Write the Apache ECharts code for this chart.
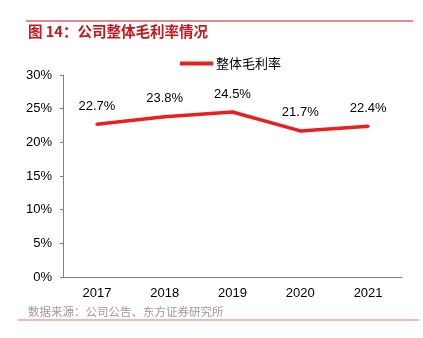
<!DOCTYPE html>
<html><head><meta charset="utf-8">
<script src="https://cdn.jsdelivr.net/npm/echarts@6/dist/echarts.min.js"></script>
<style>html,body{margin:0;padding:0;background:#fff}#c{width:423px;height:338px}</style>
</head><body><div id="c"></div>
<script>
var categories = ['2017', '2018', '2019', '2020', '2021'];
var grossMargin = [22.7, 23.8, 24.5, 21.7, 22.4];
var seriesName = '整体毛利率';
var titleText = '图 14：公司整体毛利率情况';
var sourceText = '数据来源：公司公告、东方证券研究所';

var chart = echarts.init(document.getElementById('c'));
var font = '"Liberation Sans", Arial, "Noto Sans CJK SC", sans-serif';
chart.setOption({
  animation: false,
  textStyle: { fontFamily: font },
  graphic: [
    { type: 'line', shape: { x1: 26, y1: 21, x2: 413, y2: 21 }, style: { stroke: '#c8161d', lineWidth: 1 } },
    { type: 'text', left: 28, top: 24, style: { text: titleText, fill: '#c8161d', font: 'bold 14.5px "Noto Sans CJK SC", sans-serif' } },
    { type: 'text', left: 28, top: 306, style: { text: sourceText, fill: '#9a9a9a', font: '11.5px "Noto Sans CJK SC", sans-serif' } },
    { type: 'line', shape: { x1: 18, y1: 320, x2: 419, y2: 320 }, style: { stroke: '#e87070', lineWidth: 1.2 } }
  ],
  legend: {
    top: 52, left: 175,
    itemWidth: 33, itemHeight: 4, itemGap: 4,
    icon: 'rect',
    itemStyle: { color: '#e8211f' },
    textStyle: { fontSize: 13, color: '#000', fontFamily: '"Noto Sans CJK SC", sans-serif', padding: [0, 0, 0, -2] },
    data: [seriesName]
  },
  grid: { left: 63, right: 21, top: 75, bottom: 61 },
  xAxis: {
    type: 'category', data: categories, boundaryGap: true,
    axisLine: { lineStyle: { color: '#808080', width: 1 } },
    axisTick: { inside: true, length: 3, lineStyle: { color: '#808080' } },
    axisLabel: { color: '#000', fontSize: 13, margin: 10 }
  },
  yAxis: {
    type: 'value', min: 0, max: 30, interval: 5,
    axisLine: { show: true, lineStyle: { color: '#808080', width: 1 } },
    axisTick: { show: true, length: 3, lineStyle: { color: '#808080' } },
    splitLine: { show: false },
    axisLabel: { color: '#000', fontSize: 13, margin: 11, formatter: '{value}%' }
  },
  series: [{
    name: seriesName, type: 'line', data: grossMargin,
    symbol: 'circle', symbolSize: 3, showSymbol: true,
    lineStyle: { color: '#e8211f', width: 3.5 },
    itemStyle: { color: '#e8211f', borderWidth: 0 },
    label: { show: true, position: 'top', distance: 10, color: '#000', fontSize: 13, formatter: '{c}%' }
  }]
});
</script></body></html>
